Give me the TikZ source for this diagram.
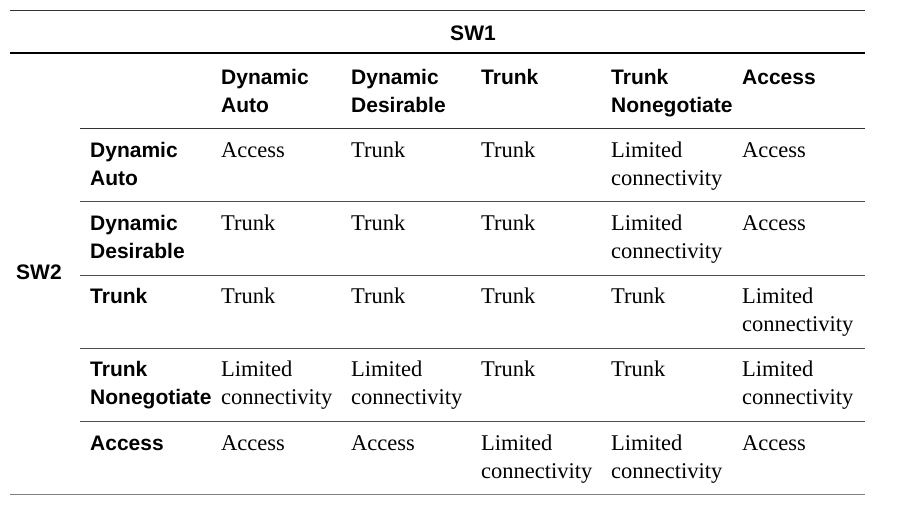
\documentclass[tikz,border=0pt]{standalone}
\usepackage{fontspec}
\setmainfont{Liberation Serif}
\newfontfamily\hdr{Liberation Sans}
\newcommand\tb[1]{\begin{tabular}[t]{@{}l@{}}#1\end{tabular}}
\begin{document}
\begin{tikzpicture}[x=1pt,y=-1pt,
  hd/.style={anchor=base west,inner sep=0pt,font=\hdr\bfseries\fontsize{21}{28}\selectfont},
  bd/.style={anchor=base west,inner sep=0pt,font=\fontsize{22.5}{28}\selectfont},
  rule/.style={draw=black!80,line width=0.8pt}]
\useasboundingbox (0,0) rectangle (898,525);
\renewcommand\arraystretch{1}
\draw[rule] (10,10) -- (865,10);
\draw[black,line width=2pt] (10,53) -- (865,53);
\draw[rule] (80,128) -- (865,128);
\foreach \y in {201,275,348,421} \draw[black!70,line width=0.8pt] (80,\y) -- (865,\y);
\draw[black!50,line width=1pt] (10,494) -- (865,494);
\node[hd,anchor=base] (sw1) at (473,40) {SW1};
\node[hd] (sw2) at (16,279) {SW2};
\node[hd] (h1) at (221,84) {\tb{Dynamic\\Auto}};
\node[hd] (h2) at (351,84) {\tb{Dynamic\\Desirable}};
\node[hd] (h3) at (481,84) {Trunk};
\node[hd] (h4) at (611,84) {\tb{Trunk\\Nonegotiate}};
\node[hd] (h5) at (742,84) {Access};
\def\lc{\tb{Limited\\connectivity}}
\foreach \r/\nm/\a/\b/\c/\d [count=\i from 0] in {
  {\tb{Dynamic\\Auto}}/Access/Trunk/Trunk/\lc/Access,
  {\tb{Dynamic\\Desirable}}/Trunk/Trunk/Trunk/\lc/Access,
  Trunk/Trunk/Trunk/Trunk/Trunk/\lc,
  {\tb{Trunk\\Nonegotiate}}/\lc/\lc/Trunk/Trunk/\lc,
  Access/Access/Access/\lc/\lc/Access}{
  \pgfmathsetmacro\yy{157+73.3*\i}
  \node[hd] (r\i) at (90,\yy) {\r};
  \node[bd] (c\i a) at (221,\yy) {\nm};
  \node[bd] (c\i b) at (351,\yy) {\a};
  \node[bd] (c\i c) at (481,\yy) {\b};
  \node[bd] (c\i d) at (611,\yy) {\c};
  \node[bd] (c\i e) at (742,\yy) {\d};
}
\end{tikzpicture}
\end{document}
